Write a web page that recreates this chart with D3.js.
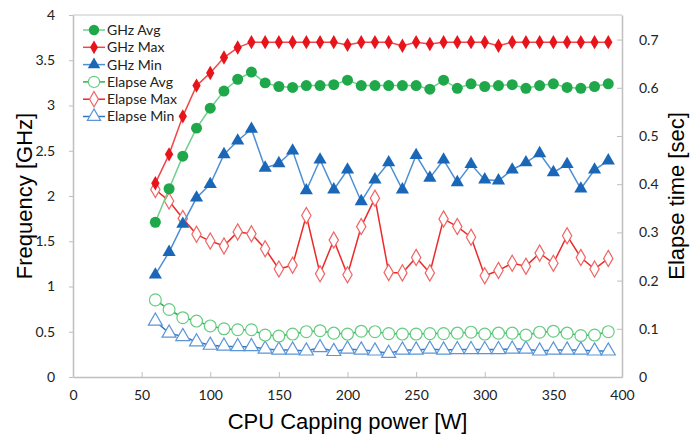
<!DOCTYPE html>
<head>
<meta charset="utf-8">
<style>
  body { margin: 0; background: #fff; }
  svg { display: block; }
  .tick text { font-family: Lato, "Open Sans", sans-serif; font-size: 14px; fill: #222; }
  .title { font-family: "Liberation Sans", Arial, sans-serif; font-size: 22px; fill: #000; }
  .legend text { font-family: Lato, "Open Sans", sans-serif; font-size: 14px; fill: #222; }
</style>
</head>
<body>
  <svg width="699" height="439"></svg>

  <script src="https://d3js.org/d3.v7.min.js"></script>
  <script>
  // CPU capping power [W]
  const power = [60, 70, 80, 90, 100, 110, 120, 130, 140, 150, 160, 170, 180, 190, 200, 210, 220,
    230, 240, 250, 260, 270, 280, 290, 300, 310, 320, 330, 340, 350, 360, 370, 380, 390];

  // frequency [GHz], left axis
  const ghzAvg = [1.71, 2.08, 2.44, 2.75, 2.97, 3.16, 3.29, 3.37, 3.25, 3.21, 3.20, 3.22, 3.22, 3.23,
    3.28, 3.22, 3.22, 3.22, 3.22, 3.22, 3.18, 3.28, 3.19, 3.24, 3.21, 3.22, 3.23, 3.19, 3.22, 3.24,
    3.20, 3.19, 3.21, 3.24];
  const ghzMax = [2.14, 2.46, 2.88, 3.22, 3.36, 3.53, 3.64, 3.70, 3.70, 3.70, 3.70, 3.70, 3.70, 3.70,
    3.67, 3.70, 3.70, 3.70, 3.66, 3.70, 3.68, 3.70, 3.70, 3.70, 3.70, 3.66, 3.70, 3.70, 3.70, 3.70,
    3.70, 3.70, 3.70, 3.70];
  const ghzMin = [1.13, 1.38, 1.69, 1.98, 2.13, 2.46, 2.61, 2.74, 2.31, 2.36, 2.50, 2.06, 2.40, 2.07,
    2.29, 1.94, 2.18, 2.37, 2.07, 2.45, 2.20, 2.40, 2.15, 2.35, 2.18, 2.17, 2.29, 2.37, 2.47, 2.26,
    2.35, 2.08, 2.29, 2.39];

  // elapse time [sec], right axis
  const elapseAvg = [0.160, 0.140, 0.123, 0.116, 0.106, 0.100, 0.098, 0.098, 0.087, 0.085, 0.089,
    0.094, 0.096, 0.091, 0.089, 0.095, 0.094, 0.090, 0.089, 0.089, 0.090, 0.090, 0.091, 0.093,
    0.089, 0.091, 0.091, 0.087, 0.093, 0.095, 0.091, 0.086, 0.087, 0.094];
  const elapseMax = [0.389, 0.365, 0.329, 0.296, 0.282, 0.272, 0.301, 0.297, 0.266, 0.224, 0.232,
    0.335, 0.214, 0.284, 0.212, 0.312, 0.371, 0.217, 0.216, 0.248, 0.216, 0.328, 0.312, 0.290,
    0.210, 0.221, 0.236, 0.230, 0.257, 0.236, 0.293, 0.248, 0.224, 0.246];
  const elapseMin = [0.116, 0.091, 0.084, 0.073, 0.066, 0.064, 0.063, 0.063, 0.058, 0.056, 0.056,
    0.054, 0.061, 0.053, 0.058, 0.056, 0.054, 0.049, 0.056, 0.056, 0.058, 0.056, 0.057, 0.057,
    0.057, 0.057, 0.058, 0.058, 0.054, 0.056, 0.056, 0.056, 0.054, 0.054];

  const xTicks = [0, 50, 100, 150, 200, 250, 300, 350, 400];
  const leftTicks = [0, 0.5, 1, 1.5, 2, 2.5, 3, 3.5, 4];
  const rightTicks = [0, 0.1, 0.2, 0.3, 0.4, 0.5, 0.6, 0.7];

  const margin = { top: 15, right: 77, bottom: 62, left: 73 };
  const svg = d3.select('svg');
  const width = +svg.attr('width') - margin.left - margin.right;
  const height = +svg.attr('height') - margin.top - margin.bottom;
  const g = svg.append('g').attr('transform', `translate(${margin.left},${margin.top})`);

  const x = d3.scaleLinear().domain([0, 400]).range([0, width]);
  const yL = d3.scaleLinear().domain([0, 4]).range([height, 0]);
  const yR = d3.scaleLinear().domain([0, 0.751]).range([height, 0]);

  const axisColor = '#bfbfbf';

  // frame top line
  g.append('line').attr('x1', 0).attr('x2', width).attr('y1', 0).attr('y2', 0)
    .attr('stroke', '#d9d9d9').attr('stroke-width', 1.5);

  const styleAxis = sel => {
    sel.select('.domain').attr('stroke', axisColor).attr('stroke-width', 1.5);
    sel.selectAll('.tick line').attr('stroke', axisColor).attr('stroke-width', 1);
  };

  g.append('g').attr('transform', `translate(0,${height})`)
    .call(d3.axisBottom(x).tickValues(xTicks).tickSize(-5).tickSizeOuter(0).tickPadding(13))
    .call(styleAxis);
  g.append('g')
    .call(d3.axisLeft(yL).tickValues(leftTicks).tickSize(4).tickSizeOuter(0).tickPadding(14)
      .tickFormat(d3.format('')))
    .call(styleAxis);
  g.append('g').attr('transform', `translate(${width},0)`)
    .call(d3.axisRight(yR).tickValues(rightTicks).tickSize(-5).tickSizeOuter(0).tickPadding(17)
      .tickFormat(d3.format('')))
    .call(styleAxis);
  g.selectAll('.tick text').attr('font-family', null).attr('font-size', null);

  // axis titles
  svg.append('text').attr('class', 'title').attr('text-anchor', 'middle')
    .attr('transform', 'translate(32,196) rotate(-90)').text('Frequency [GHz]');
  svg.append('text').attr('class', 'title').attr('text-anchor', 'middle')
    .attr('transform', 'translate(684,196) rotate(-90)').text('Elapse time [sec]');
  svg.append('text').attr('class', 'title').attr('text-anchor', 'middle')
    .attr('x', margin.left + width / 2).attr('y', 429).text('CPU Capping power [W]');

  const series = [
    { name: 'GHz Avg', values: ghzAvg, y: yL, line: '#6fd08c', color: '#1fa84a', shape: d3.symbolCircle, size: 95, fill: true },
    { name: 'GHz Max', values: ghzMax, y: yL, line: '#f04848', color: '#e8141b', shape: d3.symbolDiamond, size: 60, fill: true },
    { name: 'GHz Min', values: ghzMin, y: yL, line: '#4f8fd4', color: '#1a67b8', shape: d3.symbolTriangle, size: 75, fill: true },
    { name: 'Elapse Avg', values: elapseAvg, y: yR, line: '#2fae55', color: '#67cc82', shape: d3.symbolCircle, size: 110, fill: false },
    { name: 'Elapse Max', values: elapseMax, y: yR, line: '#ec2a2a', color: '#f06464', shape: d3.symbolDiamond, size: 75, fill: false },
    { name: 'Elapse Min', values: elapseMin, y: yR, line: '#2f78c6', color: '#5b95d6', shape: d3.symbolTriangle, size: 85, fill: false }
  ];

  const drawOrder = [4, 5, 3, 2, 1, 0];
  drawOrder.forEach(i => {
    const s = series[i];
    const pts = power.map((p, j) => [x(p), s.y(s.values[j])]);
    g.append('path').datum(pts)
      .attr('d', d3.line())
      .attr('fill', 'none').attr('stroke', s.line).attr('stroke-width', 1.5);
    g.selectAll(null).data(pts).enter().append('path')
      .attr('transform', d => `translate(${d[0]},${d[1]})`)
      .attr('d', d3.symbol().type(s.shape).size(s.size))
      .attr('fill', s.fill ? s.color : '#fff')
      .attr('stroke', s.color).attr('stroke-width', s.fill ? 0 : 1.2);
  });

  // legend
  const legend = svg.append('g').attr('class', 'legend');
  series.forEach((s, i) => {
    const ly = 30 + i * 17.3;
    const row = legend.append('g').attr('transform', `translate(83,${ly})`);
    row.append('line').attr('x1', 0).attr('x2', 22).attr('stroke', s.line)
      .attr('stroke-width', 1.5);
    row.append('path').attr('transform', 'translate(11,0)')
      .attr('d', d3.symbol().type(s.shape).size(s.size * 0.9))
      .attr('fill', s.fill ? s.color : '#fff')
      .attr('stroke', s.color).attr('stroke-width', s.fill ? 0 : 1.2);
    row.append('text').attr('x', 24).attr('dy', '0.35em').text(s.name);
  });
  </script>
</body>
</html>
